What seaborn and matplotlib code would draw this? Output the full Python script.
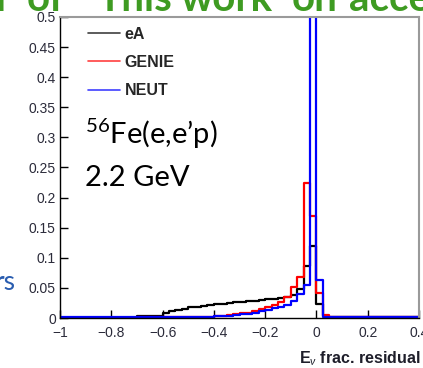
import numpy as np
import pandas as pd
import matplotlib
matplotlib.use("Agg")
import matplotlib.pyplot as plt
import seaborn as sns
from matplotlib.lines import Line2D
from matplotlib.ticker import MultipleLocator, FuncFormatter

# ---------------- data (bin contents, bins of width 0.025 from -1 to 0.4) ----------------
bin_edges = [round(-1.0 + 0.025 * i, 3) for i in range(57)]

eA = [0.0] * 12 + [0.003] * 4 + [
    0.008, 0.011, 0.013, 0.015, 0.018, 0.018, 0.020, 0.021,
    0.023, 0.023, 0.025, 0.026, 0.027, 0.028, 0.029, 0.030,
    0.031, 0.032, 0.033, 0.035, 0.038, 0.048, 0.086, 0.120,
    0.024, 0.003] + [0.001] * 14

genie = [0.0] * 12 + [0.002] * 4 + [0.001] * 8 + [
    0.003, 0.004, 0.005, 0.006, 0.008, 0.009, 0.012, 0.015,
    0.018, 0.021, 0.026, 0.035, 0.051, 0.068, 0.225, 0.170,
    0.041, 0.005, 0.002] + [0.001] * 13

neut = [0.001] * 22 + [0.002, 0.002] + [
    0.003, 0.003, 0.004, 0.005, 0.006, 0.007, 0.009, 0.011,
    0.013, 0.016, 0.019, 0.022, 0.028, 0.040, 0.055, 0.600,
    0.063] + [0.001] * 15

series_names = ["eA", "GENIE", "NEUT"]
series_colors = ["black", "#ff0000", "#0000ff"]

# slide fragments (words of the cropped slide title and their left pixel positions)
title_words = ["r", "of", "This", "work", "on", "accel"]
title_word_px = [-4, 27, 97, 181, 292, 349]

edges = np.array(bin_edges)
centers = (edges[:-1] + edges[1:]) / 2
df = pd.DataFrame({
    "x": np.concatenate([centers] * 3),
    "w": np.concatenate([eA, genie, neut]),
    "sample": np.repeat(series_names, len(centers)),
})

# ---------------- figure ----------------
sns.set_theme(style="white")
plt.rcParams["font.family"] = ["Liberation Sans", "DejaVu Sans"]
plt.rcParams["mathtext.fontset"] = "custom"
plt.rcParams["mathtext.rm"] = "Lato"
plt.rcParams["mathtext.it"] = "Lato:italic"
plt.rcParams["mathtext.bf"] = "Lato:bold"

fig = plt.figure(figsize=(4.23, 3.68), dpi=100)
ax = fig.add_axes([60 / 423, 50 / 368, 359 / 423, 301 / 368])

for name, color in zip(series_names, series_colors):
    sub = df[df["sample"] == name]
    sns.histplot(data=sub, x="x", weights="w", bins=list(bin_edges), element="step",
                 fill=False, color=color, linewidth=1.6, ax=ax)

ax.set_xlim(-1.0, 0.4)
ax.set_ylim(0, 0.5)
ax.set_xlabel("")
ax.set_ylabel("")


def _fmt(v, p):
    v = round(v, 6)
    if abs(v) < 1e-9:
        return "0"
    return f"{v:g}".replace("-", "\u2212")


fmt = FuncFormatter(_fmt)
ax.xaxis.set_major_locator(MultipleLocator(0.2))
ax.xaxis.set_minor_locator(MultipleLocator(0.05))
ax.yaxis.set_major_locator(MultipleLocator(0.05))
ax.yaxis.set_minor_locator(MultipleLocator(0.01))
ax.xaxis.set_major_formatter(fmt)
ax.yaxis.set_major_formatter(fmt)
ax.tick_params(axis="both", which="both", direction="in", colors="black",
               labelcolor="#2b2b3a", labelsize=10, width=1.0)
ax.tick_params(axis="both", which="major", length=6)
ax.tick_params(axis="both", which="minor", length=3.5)
ax.tick_params(axis="x", pad=6)
ax.tick_params(axis="y", pad=3)
ax.tick_params(bottom=True, left=True, top=False, right=False)

for s in ["left", "bottom"]:
    ax.spines[s].set_color("black")
    ax.spines[s].set_linewidth(1.0)
for s in ["top", "right"]:
    ax.spines[s].set_color("#9a9a9a")
    ax.spines[s].set_linewidth(1.5)

handles = [Line2D([], [], color=c, lw=1.2, alpha=0.75) for c in series_colors]
ax.legend(handles, series_names, loc="upper left", bbox_to_anchor=(0.078, 0.968),
          frameon=False, borderpad=0, borderaxespad=0, handlelength=2.0,
          handletextpad=0.3, labelspacing=0.83,
          prop={"weight": "bold", "size": 11.5, "family": ["Liberation Sans"]})

ax.text(0.07, 0.61, "$^{56}$Fe(e,e\u2019p)", transform=ax.transAxes, fontsize=21,
        family=["Lato", "DejaVu Sans"], color="black", va="center", ha="left")
ax.text(0.07, 0.465, "2.2 GeV", transform=ax.transAxes, fontsize=21,
        family=["Lato", "DejaVu Sans"], color="black", va="center", ha="left")

fig.text(421 / 423, 1 - 359 / 368, r"E$_{\nu}$ frac. residual", ha="right", va="center",
         fontsize=11.5, fontweight="bold", color="#1e1e2a")

# fragments of the surrounding slide (cropped in the reference)
for word, px in zip(title_words, title_word_px):
    fig.text(px / 423, 1 - 11 / 368, word, ha="left", va="baseline",
             fontsize=29, fontweight="bold", color="#3e9b22",
             family=["Lato", "DejaVu Sans"])
fig.text(-6 / 423, 1 - 282 / 368, "rs", ha="left", va="center",
         fontsize=19, color="#2a5db0", family=["Lato", "DejaVu Sans"])

fig.savefig("out.png", dpi=100)
